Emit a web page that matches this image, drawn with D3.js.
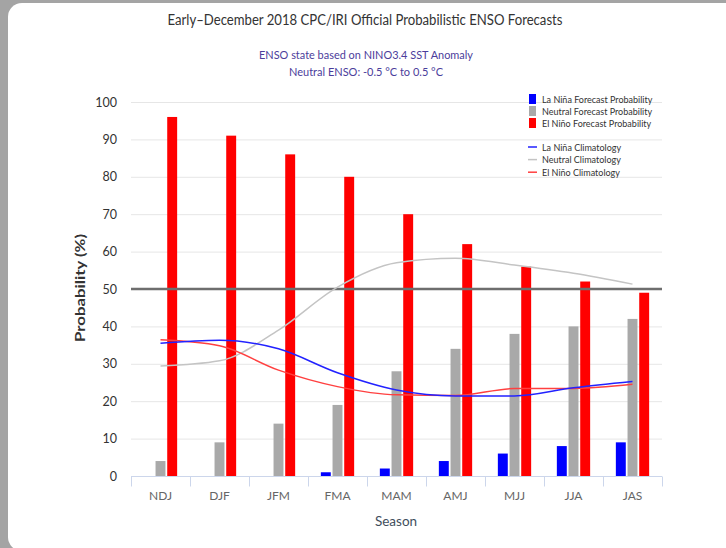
<!DOCTYPE html>
<html><head><meta charset="utf-8">
<script src="https://cdn.jsdelivr.net/npm/d3@7"></script>
<style>
html,body{margin:0;padding:0;background:#a4a4a4;}
svg{display:block;}
text{font-family:Lato,"Open Sans",sans-serif;}
</style></head>
<body>
<svg id="c" width="726" height="548"></svg>
<script>
const seasons = ["NDJ","DJF","JFM","FMA","MAM","AMJ","MJJ","JJA","JAS"];
const laNinaProb  = [0, 0, 0, 1, 2, 4, 6, 8, 9];
const neutralProb = [4, 9, 14, 19, 28, 34, 38, 40, 42];
const elNinoProb  = [96, 91, 86, 80, 70, 62, 56, 52, 49];
const laNinaClim  = [35.5, 36.3, 34, 27.6, 23, 21.4, 21.4, 23.6, 25.3];
const neutralClim = [29.4, 30.8, 39, 50.5, 57, 58.2, 56.4, 54.2, 51.3];
const elNinoClim  = [36.4, 34.8, 28.3, 23.9, 21.7, 21.5, 23.4, 23.4, 24.5];
const yTicks = [0,10,20,30,40,50,60,70,80,90,100];
const threshold = 50;

const svg = d3.select("#c");
svg.append("rect").attr("x",8).attr("y",3).attr("width",740).attr("height",548).attr("rx",14).attr("fill","#fff");

const x = d3.scaleBand().domain(seasons).range([131,662]);
const y = d3.scaleLinear().domain([0,100]).range([476,102]);
const keys = ["laNina","neutral","elNino"];
const xs = d3.scaleBand().domain(keys).range([0,x.bandwidth()]).paddingInner(0.15).paddingOuter(1.1);
const colors = {laNina:"#0000ff", neutral:"#a9a9a9", elNino:"#ff0000"};
const series = {laNina:laNinaProb, neutral:neutralProb, elNino:elNinoProb};

// title
svg.append("text").attr("x",365).attr("y",25).attr("text-anchor","middle").attr("font-size",15.5).attr("fill","#333")
  .attr("textLength",395).attr("lengthAdjust","spacingAndGlyphs")
  .text("Early–December 2018 CPC/IRI Official Probabilistic ENSO Forecasts");
svg.append("text").attr("x",366).attr("y",59).attr("text-anchor","middle").attr("font-size",11.5).attr("fill","#4b3d9b")
  .attr("textLength",214).attr("lengthAdjust","spacingAndGlyphs")
  .text("ENSO state based on NINO3.4 SST Anomaly");
svg.append("text").attr("x",366).attr("y",76).attr("text-anchor","middle").attr("font-size",11.5).attr("fill","#4b3d9b")
  .attr("textLength",154).attr("lengthAdjust","spacingAndGlyphs")
  .text("Neutral ENSO: -0.5 °C to 0.5 °C");

// grid
svg.append("g").selectAll("line").data(yTicks).join("line")
  .attr("x1",131).attr("x2",662).attr("y1",d=>y(d)+0.5).attr("y2",d=>y(d)+0.5)
  .attr("stroke","#e6e6e6").attr("stroke-width",1);

// y axis labels
const ya = svg.append("g").attr("transform","translate(117,0)")
  .call(d3.axisLeft(y).tickValues(yTicks).tickSize(0).tickPadding(0));
ya.select(".domain").remove();
ya.selectAll("text").attr("font-size",12.5).attr("fill","#333").attr("font-family","Lato,sans-serif");

svg.append("text").attr("transform","translate(85,288) rotate(-90)").attr("text-anchor","middle")
  .attr("font-family","'DejaVu Sans',sans-serif")
  .attr("font-size",13).attr("font-weight","bold").attr("fill","#333")
  .attr("textLength",108).attr("lengthAdjust","spacingAndGlyphs").text("Probability (%)");

// bars
const g = svg.append("g");
keys.forEach(k=>{
  g.append("g").selectAll("rect").data(seasons).join("rect")
    .attr("x",(d)=>x(d)+xs(k)).attr("width",xs.bandwidth())
    .attr("y",(d,i)=>y(series[k][i])).attr("height",(d,i)=>y(0)-y(series[k][i]))
    .attr("fill",colors[k]);
});

// threshold line
svg.append("line").attr("x1",131).attr("x2",662).attr("y1",y(threshold)).attr("y2",y(threshold))
  .attr("stroke","#6e6e6e").attr("stroke-width",2.5);

// climatology lines
const line = d3.line().x((d,i)=>x(seasons[i])+x.bandwidth()/2).y(d=>y(d)).curve(d3.curveMonotoneX);
[[neutralClim,"#c4c4c4"],[elNinoClim,"#ff4040"],[laNinaClim,"#2222ff"]].forEach(([d,c])=>{
  svg.append("path").attr("d",line(d)).attr("fill","none").attr("stroke",c).attr("stroke-width",1.5);
});

// x axis
const xa = svg.append("g").attr("transform","translate(0,476.5)");
xa.append("line").attr("x1",131).attr("x2",662).attr("stroke","#ccd6eb");
const bounds = seasons.map(s=>x(s)).concat([x(seasons[seasons.length-1])+x.bandwidth()]);
xa.selectAll("line.t").data(bounds).join("line").attr("class","t")
  .attr("x1",d=>Math.round(d)+0.5).attr("x2",d=>Math.round(d)+0.5).attr("y1",0).attr("y2",10).attr("stroke","#ccd6eb");
xa.selectAll("text").data(seasons).join("text")
  .attr("x",d=>x(d)+x.bandwidth()/2).attr("y",23).attr("text-anchor","middle")
  .attr("font-size",12).attr("fill","#666").text(d=>d);
svg.append("text").attr("x",396).attr("y",526).attr("text-anchor","middle").attr("font-size",13.5).attr("fill","#3f4e5c").text("Season");

// legend
const leg = svg.append("g").attr("transform","translate(528,0)");
const boxItems = [["La Niña Forecast Probability","#0000ff"],["Neutral Forecast Probability","#a9a9a9"],["El Niño Forecast Probability","#ff0000"]];
boxItems.forEach((it,i)=>{
  leg.append("rect").attr("x",1).attr("y",94+i*12).attr("width",7).attr("height",10).attr("fill",it[1]);
  leg.append("text").attr("x",14).attr("y",103+i*12).attr("font-size",9).attr("fill","#333").text(it[0]);
});
const lineItems = [["La Niña Climatology","#2222ff"],["Neutral Climatology","#c4c4c4"],["El Niño Climatology","#ff4040"]];
lineItems.forEach((it,i)=>{
  leg.append("line").attr("x1",0).attr("x2",9).attr("y1",147+i*12.6).attr("y2",147+i*12.6).attr("stroke",it[1]).attr("stroke-width",1.5);
  leg.append("text").attr("x",14).attr("y",150.5+i*12.6).attr("font-size",9).attr("fill","#333").text(it[0]);
});
</script>
</body></html>
